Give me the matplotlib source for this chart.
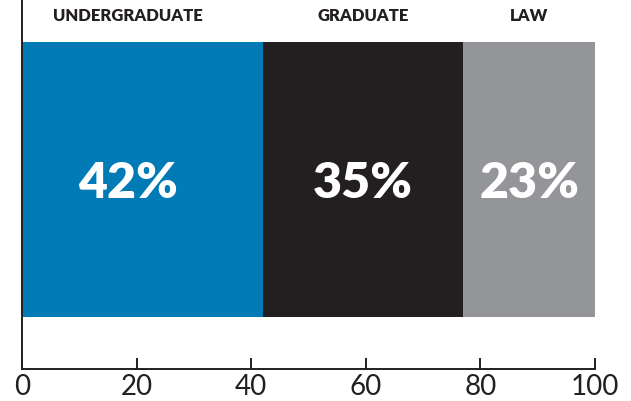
import matplotlib.pyplot as plt

# data
categories = ['UNDERGRADUATE', 'GRADUATE', 'LAW']
shares = [42, 35, 23]
colors = ['#007bb5', '#231f20', '#939598']
ticks = [0, 20, 40, 60, 80, 100]
label_shift = [-2.5, 0, 0]   # the first label sits a bit left of its segment centre

plt.rcParams['font.family'] = ['Lato', 'DejaVu Sans']

fig = plt.figure(figsize=(6.31, 4.02), dpi=100)
ax = fig.add_axes([0.035, 0.08, 0.908, 0.92])

left = 0
for cat, val, col, sh in zip(categories, shares, colors, label_shift):
    ax.barh(0.512, val, height=0.743, left=left, color=col)
    mid = left + val / 2 + sh
    ax.text(mid, 0.505, '%d%%' % val, ha='center', va='center',
            color='white', fontsize=36, fontweight='heavy')
    ax.text(mid, 0.957, cat, ha='center', va='center',
            color='#231f20', fontsize=12, fontweight='heavy')
    left += val

ax.set_xlim(0, 100)
ax.set_ylim(0, 1)
ax.set_xticks(ticks)
ax.set_xticklabels([str(t) for t in ticks], fontsize=20, color='#231f20')
ax.set_yticks([])
ax.tick_params(axis='x', direction='in', length=8, width=1.4, pad=3, color='#231f20')
for s in ['top', 'right']:
    ax.spines[s].set_visible(False)
for s in ['left', 'bottom']:
    ax.spines[s].set_linewidth(1.4)
    ax.spines[s].set_color('#231f20')

fig.savefig('out.png', dpi=100)
